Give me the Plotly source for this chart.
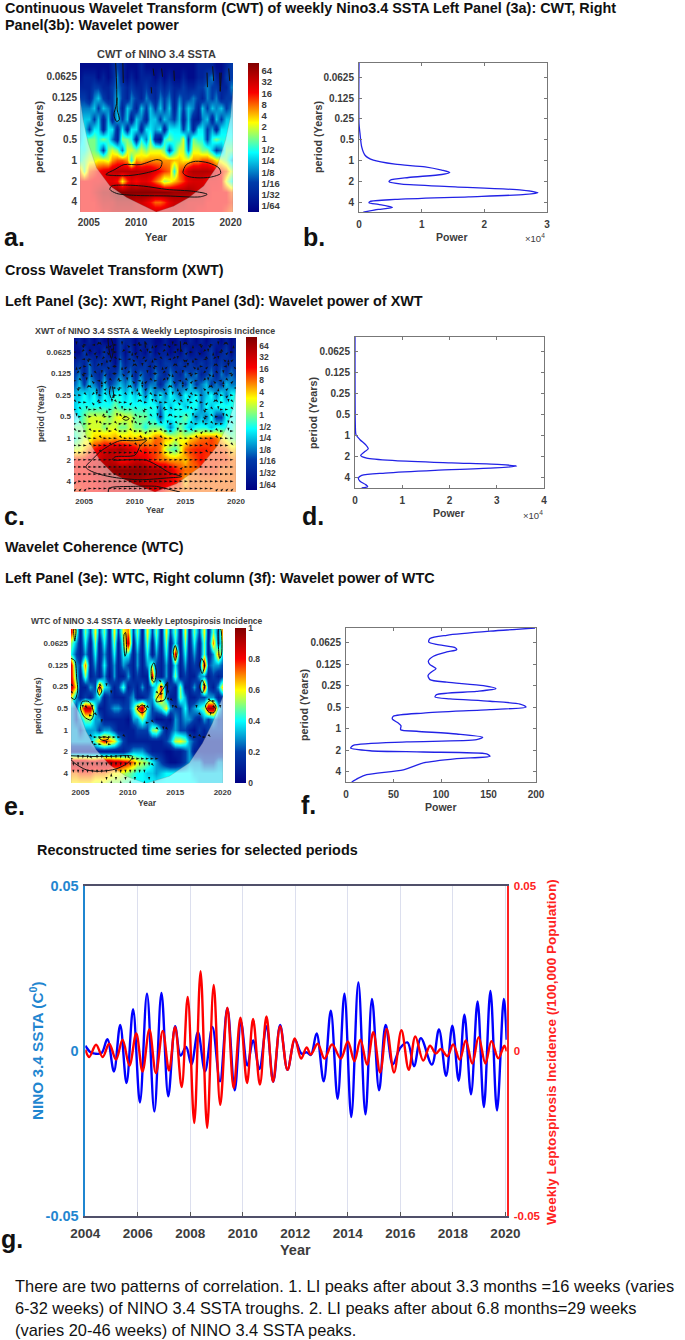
import plotly.graph_objects as go

W, H = 685, 1340
FONT = "Liberation Sans"
GRAY = "#3c3c3c"

# ---------- data: wavelet grids (log2 power / coherence), rows = log2(period), cols = year ----------
grid_years = [2004 + 0.5 * i for i in range(33)]
grid_octaves = [-4.5, -4, -3.5, -3, -2.5, -2, -1.5, -1, -0.5, 0, 0.5, 1, 1.5, 2, 2.5]

cwt_log2_power = [
    [-6,-6,-6,-6,-6,-6,-6,-5,-4,-5,-6,-6,-6,-5,-6,-6,-6,-6,-6,-6,-6,-6,-6,-6,-6,-5,-5,-5,-5,-6,-6,-5,-4],
    [-6,-5,-5,-5,-6,-5,-6,-5,-3,-5,-6,-5,-6,-5,-5,-5,-6,-5,-6,-5,-6,-6,-5,-6,-6,-5,-5,-4,-3,-5,-6,-4,-4],
    [-5,-5,-5,-4,-4,-5,-5,-4,-3,-4,-5,-4,-5,-5,-4,-5,-5,-4,-5,-4,-5,-5,-4,-5,-5,-4,-4,-3,-4,-4,-5,-5,-3],
    [-4,-4,-5,-3,-2,-4,-5,-4,-2,-4,-5,-3,-4,-5,-3,-4,-5,-3,-4,-3,-5,-3,-4,-4,-3,-4,-5,-3,-4,-3,-5,-4,-4],
    [-3,-3,-3,-2,-4,-2,-3,-4,-2,-5,-2,-3,-5,-2,-4,-2,-4,-2,-4,-2,-5,-2,-4,-2,-3,-5,-2,-4,-2,-3,-2,-4,-3],
    [-2.5,-2,-2,-4,-2,-5,-2,-5,-2,-4,-2,-5.5,-2,-3,-5,-2,-2,-4,-2,-3,-4,-2,-5,-2,-5,-5.5,-3,-2,-5,-2,-4,-2,-2],
    [-2,-1.5,-4,-1.5,-1.5,-5,-1.5,-1.5,-5,-1.5,-5,-1.5,-1.5,-5,-1.5,-1.5,-2.5,-1.5,-5,-1.5,-1.5,-1.5,-4,-1.5,-5,-1.5,-1.5,-4,-2.5,-5,-1.5,-1.5,-1.5],
    [-2,-1,0,0,-1,0,-1,-3,-5,0,0,-1,-5,-1,-3,0,-5,-6,-1,0,-1,-1,1,-4,0,-1,-1,-4,-1,0,-1,-1,-1],
    [-1,-1,0,0,-1,-4,0,1,0,-3,1,1,0,1,0,1,1,1,0,-4,-1,1,1,-3,1,1,0,0,-2,-4,-3,0,0],
    [-1,0,1,1,1.5,1.5,1,2.5,3.2,3.2,2.5,-1,2.5,2,2.5,2.5,2.5,2.5,2.5,2.5,2,2,1.5,1.5,2.5,2.5,3.2,3.2,2.5,1.5,1,0,-2],
    [3,0,3,3.5,4,4.5,4.8,5.3,5.5,5.5,5.5,5.5,5.5,5.3,5.3,5.2,4.6,4,3.5,3,-1,3,3.8,5.2,5.6,5.6,5.6,5.6,5.3,4.6,3.8,3,1],
    [4,4,4,4.2,4.2,4.5,4.5,4.5,4,1.5,3.5,4.5,4,4.5,4.5,4,3,2,0.5,1,2,2.8,3.5,4.5,4.8,4.8,4.8,4.2,4.2,4.2,4,1,-1],
    [4,4,4,4.5,5,5.5,5.5,6,6.5,6.5,6.5,6.5,6.5,6.5,6.5,6.5,6.5,6.5,6.5,6.3,6,6,6,6,5.5,5,5,4.5,4,4,4,4,3],
    [4,4,4,4,4.5,5,5,5,5.5,5.5,5.5,5.5,5,5,4.5,4,3,3,3.5,4.5,5,5,5,4.5,4.5,4.5,4.5,4,4,4,4,4,3.5],
    [4,4,4,4,4,4.5,4.5,5,5,5,5,5,5,5,5,5,5,5,5,5,5,4.5,4.5,4.5,4.5,4,4,4,4,4,4,3.5,3],
]
xwt_log2_power = [
    [-6,-5,-6,-5,-6,-5,-6,-6,-6,-4,-5,-5,-6,-5,-5,-5,-6,-6,-5,-6,-6,-5,-6,-5,-6,-5,-6,-5,-5,-6,-5,-6,-5],
    [-6,-6,-4,-6,-5,-6,-4,-6,-6,-4,-6,-4,-6,-5,-6,-4,-6,-5,-5,-6,-5,-6,-4,-6,-5,-6,-5,-4,-6,-5,-4,-6,-4],
    [-5,-4,-5,-3,-5,-4,-5,-4,-6,-3,-5,-4,-4,-5,-4,-5,-4,-5,-4,-4,-5,-4,-5,-4,-5,-4,-5,-4,-5,-4,-5,-4,-4],
    [-4,-3,-5,-3,-4,-5,-3,-5,-4,-3,-4,-3,-5,-3,-4,-5,-3,-4,-5,-3,-4,-5,-3,-4,-3,-5,-4,-3,-5,-3,-4,-3,-4],
    [-3.5,-2,-4,-2,-3,-4,-2,-4,-3,-2,-3,-2,-4,-2,-4,-3,-3,-5,-3,-2,-4,-3,-4,-2,-4,-3,-2,-4,-3,-4,-2,-3,-3],
    [-2,-2,-1,-2,-1,-3,-1,-2,-1,-1,-2,-1,-2,-1,-3,-1,-3,-1,-3,-1,-2,-3,-1,-2,-1,-3,-2,-1,-3,-1,-3,-1,-1],
    [-2,-1,-1,-1,-1,-1,-1,-1,0,-1,-1,-1,-1,-1,-1,-1,-1,-3,-1,-2,-1,-1,-2,-1,-1,-3,-1,-2,-1,-1,-1,-1,-1],
    [-2,-1,0,1,1,1,1,0,1,1.5,1,1,0,0,0,-1,-1,-4,-1,-1,-1,-1,0,-1,-3,-2,-3,-1,-4,-4,-1,-1,-1],
    [0,0,0,1,1,1,0,1,1,0,0,1,0,0,-1,0,0,0,-1,-3,-1,0,-1,-2,-1,-1,-1,-2,-1,-1,-1,-1,0],
    [-1,0,1,1,2,2,2.5,2,2.5,2,2,2,2,2.5,2,2,3,3,2,2,1,1.5,1,2,2.5,3,3,3.5,3,2,1,0,0],
    [1,1,2,3,4,4.5,5,5.5,5.5,6,5.5,5,4.5,3.5,4,3.5,3.5,3,1,0,-0.5,1,3,3.5,3.8,3.8,3.8,3.5,3.3,3.3,3,2,2],
    [4,4,4,4.5,4.5,5,5.5,5.5,5,4,4,4.5,5,5,4.5,4,3.5,3,3,2.5,2.5,2.5,2,3,3.5,4,3.5,3.5,3.5,3.5,3.5,3,3],
    [4,4,4,4,5,5,5.5,6,6.5,6.5,6.5,6.5,6.5,6.5,6.5,6,6,6,5.5,5,4,3.5,3,3,3,3.5,3.5,3.5,3.5,3,3,3,3],
    [4,4,4,4,4,4.5,5,5,5.5,5.5,5.5,6,6,6,5.5,5.5,5.5,5.5,5,4.5,4,3.5,2,3,3,3,3,3,3,3,3,3,3],
    [3.5,3.5,4,4,4,4,4.5,4.5,4.5,4.5,4.5,5,5,5,5,4.5,4.5,4,3.5,3,3,3,3,3,3,3,3,3,3,3,3,3,3],
]
wtc_coherence = [
    [.8,.5,.1,.5,.2,.6,.2,.5,.1,.6,.2,.6,.7,.2,.5,.1,.6,.2,.5,.1,.6,.2,.5,.1,.6,.1,.5,.2,.6,.1,.5,.2,.8],
    [.5,.3,.1,.4,.1,.5,.1,.4,.1,.5,.1,.5,.9,.1,.4,.1,.5,.1,.4,.1,.5,.1,.4,.1,.5,.1,.4,.1,.5,.1,.7,.2,.6],
    [.4,.2,.1,.3,.1,.4,.1,.3,.1,.4,.1,.4,.4,.1,.3,.1,.4,.1,.3,.1,.4,.1,.85,.1,.4,.1,.3,.1,.5,.1,.3,.7,.3],
    [.85,.3,.2,.7,.1,.3,.1,.4,.1,.3,.1,.3,.2,.1,.3,.1,.3,.5,.2,.1,.3,.1,.4,.1,.3,.1,.2,.1,.9,.2,.3,.3,.2],
    [.85,.4,.1,.5,.1,.2,.1,.3,.05,.3,.1,.1,.3,.1,.2,.1,.1,.85,.2,.1,.3,.1,.5,.1,.2,.1,.1,.3,.3,.1,.2,.1,.2],
    [.9,.6,.1,.1,.3,.2,.85,.4,.3,.1,.2,.45,.1,.2,.1,.3,.1,.3,.4,.8,.1,.2,.1,.5,.1,.1,.3,.1,.9,.2,.1,.3,.7],
    [.6,.3,.1,.2,.1,.3,.4,.1,.2,.1,.1,.1,.2,.3,.1,.1,.2,.3,.6,.7,.3,.1,.1,.5,.3,.1,.1,.2,.2,.3,.3,.1,.2],
    [.3,.2,.55,.9,.9,.4,.1,.1,.2,.3,.3,.2,.2,.4,.7,.95,.4,.2,.3,.4,.6,.3,.2,.2,.4,.2,.3,.4,.5,.95,.95,.4,.2],
    [.3,.2,.3,.5,.5,.3,.3,.1,.1,.1,.1,.1,.05,.3,.3,.5,.3,.2,.05,.05,.1,.05,.3,.2,.3,.3,.2,.1,.3,.2,.3,.2,.2],
    [.3,.3,.2,.3,.3,.3,.2,.3,.3,.2,.1,.1,.1,.1,.2,.2,.2,.5,.55,.3,.1,.2,.3,.2,.2,.1,.05,.2,.1,.2,.2,.2,.2],
    [.3,.3,.3,.3,.3,.5,.65,.8,.7,.6,.4,.2,.1,.1,.1,.1,.1,.1,.1,.1,.2,.3,.55,.6,.5,.3,.2,.1,.1,.1,.1,.1,.1],
    [.1,.1,.1,.1,.1,.1,.1,.1,.1,.1,.1,.1,.2,.3,.3,.3,.2,.1,.1,.1,.05,.05,.1,.1,.2,.3,.1,.1,.1,.1,.1,.1,.1],
    [.95,.95,.95,.95,.9,.9,.95,.95,.95,.9,.9,.85,.8,.7,.6,.55,.5,.4,.3,.2,.1,.05,.05,.1,.2,.3,.3,.3,.2,.2,.2,.3,.3],
    [.7,.7,.75,.75,.75,.7,.7,.7,.65,.6,.6,.55,.5,.45,.4,.4,.35,.35,.3,.35,.4,.4,.4,.4,.4,.4,.35,.35,.35,.35,.35,.35,.35],
    [.6,.6,.6,.6,.6,.55,.55,.55,.5,.5,.5,.45,.45,.4,.4,.4,.4,.4,.4,.4,.4,.4,.4,.4,.4,.4,.4,.35,.35,.35,.35,.35,.35],
]

# cone of influence (year, log2 period)
coi_a_years = [2004.05,2004.4,2004.93,2005.82,2007.23,2009,2010.78,2012.13,2013.97,2015.57,2017.16,2018.58,2019.47,2020,2020.3]
coi_a_oct = [-3,-1.94,-.83,.37,1.24,1.79,2.2,2.48,2.2,1.8,1.24,.29,-.98,-2.1,-3.6]
coi_c_years = [2004,2004.57,2005.4,2006.55,2007.87,2009.85,2012,2014.14,2016.45,2018.1,2019.09,2019.75,2020.02]
coi_c_oct = [-1.3,-.84,.09,1.03,1.65,2.12,2.5,2.12,1.34,.40,-.53,-1.46,-2.4]
coi_e_years = [2004,2004.9,2005.6,2006.65,2008.06,2009.81,2011.92,2014.38,2016.49,2017.89,2018.95,2019.65,2020]
coi_e_oct = [-1.5,-.77,.08,.92,1.62,2.15,2.48,2.15,1.54,.62,-.31,-1.08,-1.54]

# significance contours (year, log2 period)
contours_a = [
    ([2006.81,2007.77,2008.72,2010.43,2012.2,2012.73,2012.55,2011.13,2009.36,2007.59,2006.81],[.68,.44,.21,.21,-.03,.05,.37,.60,.73,.73,.68]),
    ([2014.96,2015.32,2016.28,2017.69,2018.76,2018.94,2017.87,2016.45,2015.39,2014.96],[.60,.21,.05,.13,.37,.63,.81,.84,.76,.60]),
    ([2007.23,2007.41,2008.65,2010.78,2013.26,2016.10,2017.52,2016.81,2013.26,2009.72,2007.94,2007.23],[1.40,1.24,1.19,1.24,1.40,1.49,1.63,1.75,1.71,1.68,1.59,1.40]),
    ([2007.84,2007.94,2007.66,2007.94,2008.23,2008.01,2008.0],[-4.67,-2.73,-2.17,-1.86,-1.94,-2.41,-3.0]),
    ([2008.6,2008.65],[-4.67,-3.7]),
    ([2011.8,2011.9],[-4.4,-4.05]),([2012.7,2012.8],[-4.4,-4.0]),([2014,2014.05],[-4.3,-3.8]),
    ([2017.5,2017.55],[-4.2,-3.5]),([2018.1,2018.2],[-4.5,-3.8]),([2018.85,2018.9,2019.0],[-4.2,-3.3,-4.2]),
    ([2019.8,2019.9],[-4.4,-3.8]),([2011.6,2011.65],[-3.5,-3.2]),
]
contours_c = [
    ([2005.17,2005.89,2006.55,2007.54,2008.53,2009.85,2011.17,2010.58,2010.02,2008.04,2007.81,2009.85,2011.17,2012.49,2013.48,2014.64,2013.15,2010.51,2008.2,2006.55,2005.56,2005.17],
     [1.34,.95,.64,.33,.12,.12,.09,.33,.79,.87,1.0,1.0,1.03,1.34,1.62,1.78,1.85,1.93,1.84,1.68,1.50,1.34]),
    ([2007.38,2007.47,2009.85,2012.16,2013.15,2014.47],[2.5,2.32,2.24,2.24,2.35,2.5]),
    ([2008.79,2009.12,2009.45,2009.12,2008.79],[-.92,-1.0,-.9,-.83,-.92]),
    ([2007.4,2007.5,2007.7,2007.9,2007.6,2007.4],[-4.66,-4.0,-3.7,-4.2,-4.66,-4.66]),
    ([2007.6,2007.5,2007.7,2007.9,2007.8],[-2.4,-2.1,-1.85,-1.95,-2.4]),
    ([2011,2011.05],[-4.5,-4.2]),([2014.5,2014.55],[-4.5,-4.0]),
]
contours_e = [
    ([2004,2005.95,2008.06,2010.51,2009.98,2008.75,2007,2005.6,2004.37,2004],[1.2,1.23,1.23,1.23,1.54,1.81,1.92,1.85,1.54,1.38]),
    ([2005.0,2005.2,2005.9,2006.4,2006.1,2005.4,2005.0],[-1,-1.3,-1.3,-.75,-.45,-.6,-1]),
    ([2011.0,2011.5,2012.0,2011.5,2011.0],[-.95,-1.15,-.95,-.78,-.95]),
    ([2007,2007.5,2008,2007.5,2007],[.4,.32,.4,.5,.4]),
    ([2012.5,2012.75,2013,2012.8,2012.55,2012.5],[-2.9,-3.1,-2.7,-2.2,-2.3,-2.9]),
    ([2013,2013.9,2014.2,2013.9,2013,2013],[-1.4,-2.0,-2.2,-1.4,-1.3,-1.4]),
    ([2014.8,2015,2015.2,2015,2014.8],[-3.6,-3.9,-3.6,-3.2,-3.6]),
    ([2017.6,2017.8,2018.1,2017.85,2017.6],[-3.0,-3.3,-3,-2.6,-3.0]),
    ([2017.6,2017.85,2018.1,2017.85,2017.6],[-2,-2.3,-2,-1.7,-2]),
    ([2018.2,2018.7,2019.3,2019.1,2018.6,2018.2],[-1.1,-1.35,-1.1,-.8,-.8,-1.1]),
    ([2004,2004.4,2004.6,2004.7,2004.4,2004],[-3.3,-3.2,-2.4,-1.8,-1.4,-1.5]),
    ([2006.8,2007,2007.25,2007,2006.8],[-1.8,-2,-1.8,-1.6,-1.8]),
    ([2009.6,2009.75,2009.85,2009.7,2009.6],[-4.4,-4.5,-3.6,-3.4,-4.4]),
    ([2004.3,2004.5,2004.4,2004.3],[-4.66,-4.66,-4.1,-4.66]),
    ([2019.6,2019.8,2019.9,2019.7,2019.6],[-4.66,-4.66,-3.5,-3.3,-4.66]),
]

# phase arrows: one compass letter per half year, rows a third of an octave apart
arrow_octaves = [-4.33 + i / 3 for i in range(21)]
xwt_phase = [
    "dqrlzcuerdqlzrcuelqdrzculeqrdzcul","rzucelqdrzluecdrqzuldcerqzdulcerz","clqrdzuecrlqdzeurclzdqeurlczdquer",
    "uerczdqlruezcdlqruezcldqurezcldqr","zqrucdelrqzucedlrzqucdlerzqucdler","rcdqlueczrdqluecrzdqlucerzdqlucer",
    "qrzcudelqrzcudelrqzcudelrqzcudelr","rrczdrcqrrcdzrecrrcdzrqcrrdzcrerr","crrqzrcdcrrezcrdcrrzqcdrcrezcrdcr",
    "rcdrrcurcdrrcqrcdzrcrrdcrqrcdrrcr","drcrczrrdcrqcrrcdrzcrrcdrqrcrdcrr","rcrrdcrrcrrdcrzrrcdrcrrcrdrcrrdcr",
    "crrcrrdrcrrcrrerrcrrdrrcrerrcrdrr","rrcrrcrrrcrrrcrrrcrrerrrcrrrcrrrr","rrrcrrrcrrrrcrrrrcrrrrcrrrcrrrrcr",
    "rrrrrcrrrrrrrcrrrrrrcrrrrrcrrrrrr","rrrrrrrrrrrrrrrrrrrrrrrrrrrrrrrrr","rrrrrrrrrrrrrrrrrrrrrerrrrrrrrrrr",
    "rrrrrrrrrrrrrrrrrrrrrrrrrrrrrrrrr","errrrrrrrrrrrrrrrrrrrrrrrrrrrrrre","eeerrrrrrrrrrrrrrrrrrrrrrrrreeeee",
]
wtc_phase = [
    "","","","","","",".................cq","c.....cd...........rc.......c....","c.......d.........crd.............",
    "...................rdc.......cr...","..dcd.........cdc....dc...d...cdc","....rc.....................c.d","......d.........rc",
    "..................cdc.....","....crrrrrrc.............crcrc","....drrdr","","rdddcdddddddcrrrrrr","dddddddddddddddddc",
    "dddddddduddddddd","......udududud.udu",
]

# global wavelet power (power, log2 period)
power_b = [0,0,160,430,960,2290,5750,10550,13210,14490,13210,7890,4960,4800,6820,15350,26000,28560,26540,17480,5750,1760,1600,3090,5330,3090,690]
oct_b = [-4.667,-1.778,-1.302,-.667,-.27,-.032,.159,.286,.444,.556,.651,.794,.921,1,1.111,1.238,1.397,1.524,1.603,1.714,1.841,1.937,2,2.079,2.222,2.317,2.444]
power_d = [0,70,210,1060,2260,2820,1980,1200,2470,8470,20460,31040,34210,29630,16930,6350,1410,710,1060,2260,2680,1410]
oct_d = [-4.68,-.52,-.05,.19,.43,.62,.77,.93,1.06,1.18,1.29,1.37,1.44,1.53,1.64,1.77,1.88,2.01,2.16,2.32,2.42,2.48]
power_f = [199,151.6,106,88.4,87,95.4,115.4,116.5,106,92,86.7,88.4,94.7,90,86.3,88.4,106,144.6,157.9,137.5,95.4,93.7,109.5,151.6,183.2,189.5,151.6,81.4,49.8,48.8,55,57.9,57.5,74.4,116.5,143.9,137.5,63.9,7.7,4.9,25.3,81.4,148,151.6,116.5,81.4,60.4,21.8,13,6]
oct_f = [-4.7,-4.55,-4.36,-4.21,-4.05,-3.93,-3.77,-3.69,-3.58,-3.38,-3.15,-2.99,-2.8,-2.65,-2.48,-2.29,-2.17,-2.01,-1.87,-1.74,-1.59,-1.48,-1.39,-1.28,-1.15,-1.01,-.89,-.73,-.58,-.45,-.26,-.14,.05,.12,.25,.4,.51,.62,.78,.9,1.03,1.09,1.18,1.29,1.4,1.6,1.92,2.15,2.31,2.49]

# reconstructed series (turning points)
sst_years = [2004.00,2004.20,2004.37,2004.62,2004.84,2005.09,2005.33,2005.57,2005.82,2006.08,2006.35,2006.63,2006.90,2007.16,2007.42,2007.63,2007.84,2008.04,2008.29,2008.56,2008.84,2009.13,2009.41,2009.69,2009.93,2010.17,2010.39,2010.63,2010.90,2011.16,2011.42,2011.70,2011.98,2012.24,2012.43,2012.59,2012.81,2013.08,2013.35,2013.61,2013.87,2014.13,2014.40,2014.67,2014.92,2015.19,2015.44,2015.71,2015.99,2016.27,2016.52,2016.78,2017.20,2017.47,2017.74,2017.98,2018.22,2018.44,2018.69,2018.94,2019.18,2019.43,2019.68,2019.94,2020.05]
sst_values = [.0016,-.0004,-.0008,-.0006,.0036,-.0062,.0079,-.0097,.0127,-.0156,.0174,-.0183,.0176,-.0137,.0075,-.0014,.0012,-.0041,.0057,-.0062,.0073,-.0092,.0130,-.0119,.0087,-.0044,.0032,-.0055,.0075,-.0093,.0079,-.0057,.0034,-.0008,-.0004,-.0012,.0053,-.0092,.0122,-.0145,.0174,-.0200,.0208,-.0192,.0158,-.0119,.0079,-.0041,.0009,.0026,-.0046,.0039,-.0041,.0065,-.0075,.0077,-.0090,.0110,-.0131,.0150,-.0170,.0182,-.0180,.0158,.0034]
li_years = [2004.00,2004.15,2004.41,2004.66,2004.91,2005.17,2005.42,2005.68,2005.94,2006.18,2006.44,2006.69,2006.95,2007.19,2007.42,2007.67,2007.90,2008.15,2008.39,2008.64,2008.89,2009.14,2009.41,2009.65,2009.91,2010.16,2010.39,2010.65,2010.90,2011.15,2011.42,2011.70,2011.98,2012.22,2012.43,2012.59,2012.85,2013.11,2013.40,2013.73,2014.00,2014.25,2014.48,2014.73,2014.97,2015.23,2015.48,2015.76,2016.04,2016.32,2016.57,2016.87,2017.13,2017.35,2017.54,2017.79,2018.01,2018.26,2018.49,2018.74,2018.98,2019.24,2019.47,2019.73,2019.96,2020.05]
li_values = [.0004,-.0018,.0019,-.0018,.0022,-.0026,.0034,-.0044,.0053,-.0062,.0065,-.0067,.0061,-.0059,.0073,-.0109,.0164,-.0218,.0242,-.0233,.0200,-.0163,.0131,-.0112,.0101,-.0097,.0097,-.0102,.0105,-.0093,.0075,-.0057,.0038,-.0023,.0011,-.0011,.0022,-.0023,.0020,-.0023,.0029,-.0031,.0034,-.0041,.0057,-.0065,.0067,-.0065,.0063,-.0057,.0044,-.0029,.0016,-.0008,.0006,-.0016,.0020,-.0026,.0032,-.0038,.0042,-.0038,.0030,-.0022,.0016,-.0001]

# tick labels
period_ticks = [-4,-3,-2,-1,0,1,2]
period_labels = ["0.0625","0.125","0.25","0.5","1","2","4"]
year_ticks = [2005,2010,2015,2020]
power_cbar_ticks = [6,5,4,3,2,1,0,-1,-2,-3,-4,-5,-6]
power_cbar_labels = ["64","32","16","8","4","2","1","1/2","1/4","1/8","1/16","1/32","1/64"]

ARROW_ANGLE = {"r":90,"e":45,"u":0,"q":-45,"l":-90,"z":-135,"d":180,"c":135}

fig = go.Figure()
layout = dict(width=W, height=H, margin=dict(l=0,r=0,t=0,b=0,autoexpand=False), paper_bgcolor="white", plot_bgcolor="white",
              showlegend=False, font=dict(family=FONT, color=GRAY), annotations=[])

def dom(x0,y0,x1,y1):
    return [x0/W,x1/W],[1-y1/H,1-y0/H]

def text(s,x,y,size,color=GRAY,bold=True,angle=0,anchor="center"):
    layout["annotations"].append(dict(text=f"<b>{s}</b>" if bold else s,x=x/W,y=1-y/H,xref="paper",yref="paper",
        showarrow=False,xanchor=anchor,yanchor="middle",font=dict(family=FONT,size=size,color=color),textangle=angle,borderpad=0))

counter = [0]
def axes(x0,y0,x1,y1,xr,yr,xt,xl,yt,yl,fs,box=True):
    counter[0]+=1
    n=counter[0]
    dx,dy=dom(x0,y0,x1,y1)
    line=dict(showline=box,linecolor="#777777",linewidth=1,mirror="ticks" if box else False,
              ticks="inside" if box else "",ticklen=3,tickcolor="#777777",showgrid=False,zeroline=False)
    tf=dict(family=FONT,size=fs,color=GRAY,weight="bold")
    layout[f"xaxis{n}"]=dict(domain=dx,anchor=f"y{n}",range=xr,tickvals=xt,ticktext=xl,tickfont=tf,ticklabelstandoff=3,**line)
    layout[f"yaxis{n}"]=dict(domain=dy,anchor=f"x{n}",range=yr,tickvals=yt,ticktext=yl,tickfont=tf,ticklabelstandoff=2,**line)
    return f"x{n}",f"y{n}"

def wave_panel(box,xr,yr,z,zr,coi,contours,phase,fs,cbar,cticks,clabels,cfs):
    xa,ya=axes(*box,xr,yr,year_ticks,[str(v) for v in year_ticks],period_ticks,period_labels,fs,box=False)
    cx0,cy0,cx1,cy1=cbar
    fig.add_trace(go.Heatmap(x=grid_years,y=grid_octaves,z=z,zmin=zr[0],zmax=zr[1],colorscale="Jet",zsmooth="best",xaxis=xa,yaxis=ya,
        colorbar=dict(x=cx0/W,xanchor="left",xpad=0,ypad=0,y=1-cy1/H,yanchor="bottom",len=(cy1-cy0)/H,lenmode="fraction",
                      thickness=cx1-cx0,thicknessmode="pixels",outlinewidth=0,ticks="",tickvals=cticks,ticktext=clabels,
                      tickfont=dict(family=FONT,size=cfs,color=GRAY,weight="bold"))))
    cy,co=coi
    fx=[xr[0]]+cy+[xr[1],xr[1],xr[0],xr[0]]
    fy=[co[0]]+co+[co[-1],yr[0]+1,yr[0]+1,co[0]]
    fig.add_trace(go.Scatter(x=fx,y=fy,mode="lines",fill="toself",fillcolor="rgba(255,255,255,0.5)",
                             line=dict(color="rgba(120,120,120,0.5)",width=0.5),xaxis=xa,yaxis=ya,hoverinfo="skip"))
    for cxs,cos in contours:
        fig.add_trace(go.Scatter(x=cxs,y=cos,mode="lines",line=dict(color="#111111",width=1,shape="spline",smoothing=0.8),xaxis=xa,yaxis=ya,hoverinfo="skip"))
    if phase:
        px,py,pa=[],[],[]
        for oc,row in zip(arrow_octaves,phase):
            for i,ch in enumerate(row[:32]):
                if ch in ARROW_ANGLE:
                    px.append(grid_years[i]+0.25); py.append(oc); pa.append(ARROW_ANGLE[ch])
        fig.add_trace(go.Scatter(x=px,y=py,mode="markers",marker=dict(symbol="arrow",size=3.5,angle=pa,color="#111111",line=dict(width=0)),
                                 xaxis=xa,yaxis=ya,hoverinfo="skip"))

def curve_panel(box,xr,yr,xt,xl,power,oct_,fs=10):
    xa,ya=axes(*box,xr,yr,xt,xl,period_ticks,period_labels,fs)
    fig.add_trace(go.Scatter(x=power,y=oct_,mode="lines",line=dict(color="#2222e6",width=1.3,shape="spline",smoothing=0.7),xaxis=xa,yaxis=ya,hoverinfo="skip"))

# panel a / b
wave_panel((80,63,233,212),[2004.07,2020.25],[2.48,-4.66],cwt_log2_power,(-6.53,6.68),(coi_a_years,coi_a_oct),contours_a,None,10,
           (248,63,259,212),power_cbar_ticks,power_cbar_labels,9.5)
curve_panel((359,63,547,212),[0,30000],[2.44,-4.67],[0,10000,20000,30000],["0","1","2","3"],power_b,oct_b)
# panel c / d
wave_panel((74,338,236,492),[2004,2020],[2.5,-4.65],xwt_log2_power,(-6.46,6.75),(coi_c_years,coi_c_oct),contours_c,xwt_phase,8,
           (246,337,257,490),power_cbar_ticks,power_cbar_labels,8.5)
curve_panel((355,337,544,488),[0,40000],[2.48,-4.68],[0,10000,20000,30000,40000],["0","1","2","3","4"],power_d,oct_d)
# panel e / f
wave_panel((71,629,223,783),[2004,2020.05],[2.46,-4.66],wtc_coherence,(0,1),(coi_e_years,coi_e_oct),contours_e,wtc_phase,8,
           (235,628,246,783),[0,.2,.4,.6,.8,1],["0","0.2","0.4","0.6","0.8","1"],8.5)
curve_panel((346,628,536,782),[0,200],[2.49,-4.7],[0,50,100,150,200],["0","50","100","150","200"],power_f,oct_f)

# panel g
dx,dy=dom(85.3,886,506.7,1216)
layout["xaxis7"]=dict(domain=dx,anchor="y7",range=[2004,2020.05],tickvals=list(range(2004,2021,2)),showgrid=True,gridcolor="#dcdfee",gridwidth=1,
    showline=True,linecolor="#50506a",linewidth=1.5,mirror=True,ticks="inside",ticklen=4,tickcolor="#555555",zeroline=False,ticklabelstandoff=4,
    tickfont=dict(family=FONT,size=13.5,color=GRAY,weight="bold"))
layout["yaxis7"]=dict(domain=dy,anchor="x7",range=[-.05,.05],tickvals=[-.05,0,.05],ticktext=["-0.05","0","0.05"],showgrid=False,zeroline=True,zerolinecolor="#eeeeee",zerolinewidth=1,
    showline=True,linecolor="#1f86d0",linewidth=1.5,ticks="",ticklabelstandoff=2,tickfont=dict(family=FONT,size=14.5,color="#1f86d0",weight="bold"))
layout["yaxis8"]=dict(domain=dy,anchor="x7",overlaying="y7",side="right",range=[-.05,.05],tickvals=[-.05,0,.05],ticktext=["-0.05","0","0.05"],showgrid=False,zeroline=False,
    showline=True,linecolor="#ff2222",linewidth=1.5,ticks="",ticklabelstandoff=3,tickfont=dict(family=FONT,size=11.5,color="#ff2222",weight="bold"))
fig.add_trace(go.Scatter(x=sst_years,y=sst_values,mode="lines",line=dict(color="#0000ff",width=2.4,shape="spline",smoothing=1),xaxis="x7",yaxis="y7",hoverinfo="skip"))
fig.add_trace(go.Scatter(x=li_years,y=li_values,mode="lines",line=dict(color="#ff0000",width=2.4,shape="spline",smoothing=1),xaxis="x7",yaxis="y8",hoverinfo="skip"))

# headings
HEAD = 14.4
text("Continuous Wavelet Transform (CWT) of weekly Nino3.4 SSTA Left Panel (3a): CWT, Right",4,8,HEAD,"#111111",anchor="left")
text("Panel(3b): Wavelet power",4,25,HEAD,"#111111",anchor="left")
text("Cross Wavelet Transform (XWT)",4,270,HEAD,"#111111",anchor="left")
text("Left Panel (3c): XWT, Right Panel (3d): Wavelet power of XWT",4,301,HEAD,"#111111",anchor="left")
text("Wavelet Coherence (WTC)",4,547,HEAD,"#111111",anchor="left")
text("Left Panel (3e): WTC, Right column (3f): Wavelet power of WTC",4,578,HEAD,"#111111",anchor="left")
text("Reconstructed time series for selected periods",36,850,HEAD,"#111111",anchor="left")
# chart titles
text("CWT of NINO 3.4 SSTA",156,54,11)
text("XWT of NINO 3.4 SSTA &amp; Weekly Leptospirosis Incidence",155,331,8.85)
text("WTC of NINO 3.4 SSTA &amp; Weekly Leptospirosis Incidence",147,621,8.5)
# axis titles
text("period (Years)",39,137,10.8,angle=-90)
text("Year",156,237,10.5)
text("period (Years)",318,137,10.8,angle=-90)
text("Power",452,237,10.5)
text("×10<sup>4</sup>",535,238,9.5,bold=False)
text("period (Years)",41,414,8.5,angle=-90)
text("Year",155,510,8.5)
text("period (Years)",313,413,10.8,angle=-90)
text("Power",449,513,10.5)
text("×10<sup>4</sup>",533,515,9.5,bold=False)
text("period (Years)",38,706,8.5,angle=-90)
text("Year",147,803,8.5)
text("period (Years)",304,705,10.8,angle=-90)
text("Power",441,807,10.5)
# panel letters
for s,x,y in [("a.",3,237),("b.",302,237),("c.",3,516),("d.",301,516),("e.",3,806),("f.",300,805),("g.",0,1239)]:
    text(s,x,y,25,"#111111",anchor="left")
# panel g titles
text("NINO 3.4 SSTA (C<sup>0</sup>)",36,1051,15.3,"#1f86d0",angle=-90)
text("Weekly Leptospirosis Incidence (/100,000 Population)",551,1052,13.6,"#ff2222",angle=-90)
text("Year",295,1250,14.5)
# footer
FOOT = 16.4
text("There are two patterns of correlation. 1. LI peaks after about 3.3 months =16 weeks (varies",14,1286,FOOT,"#111111",bold=False,anchor="left")
text("6-32 weeks) of NINO 3.4 SSTA troughs. 2. LI peaks after about 6.8 months=29 weeks",14,1308,FOOT,"#111111",bold=False,anchor="left")
text("(varies 20-46 weeks) of NINO 3.4 SSTA peaks.",14,1330,FOOT,"#111111",bold=False,anchor="left")

fig.update_layout(**layout)
fig.write_html("out.html", config={"displayModeBar": False}, post_script="document.body.style.margin='0';")
